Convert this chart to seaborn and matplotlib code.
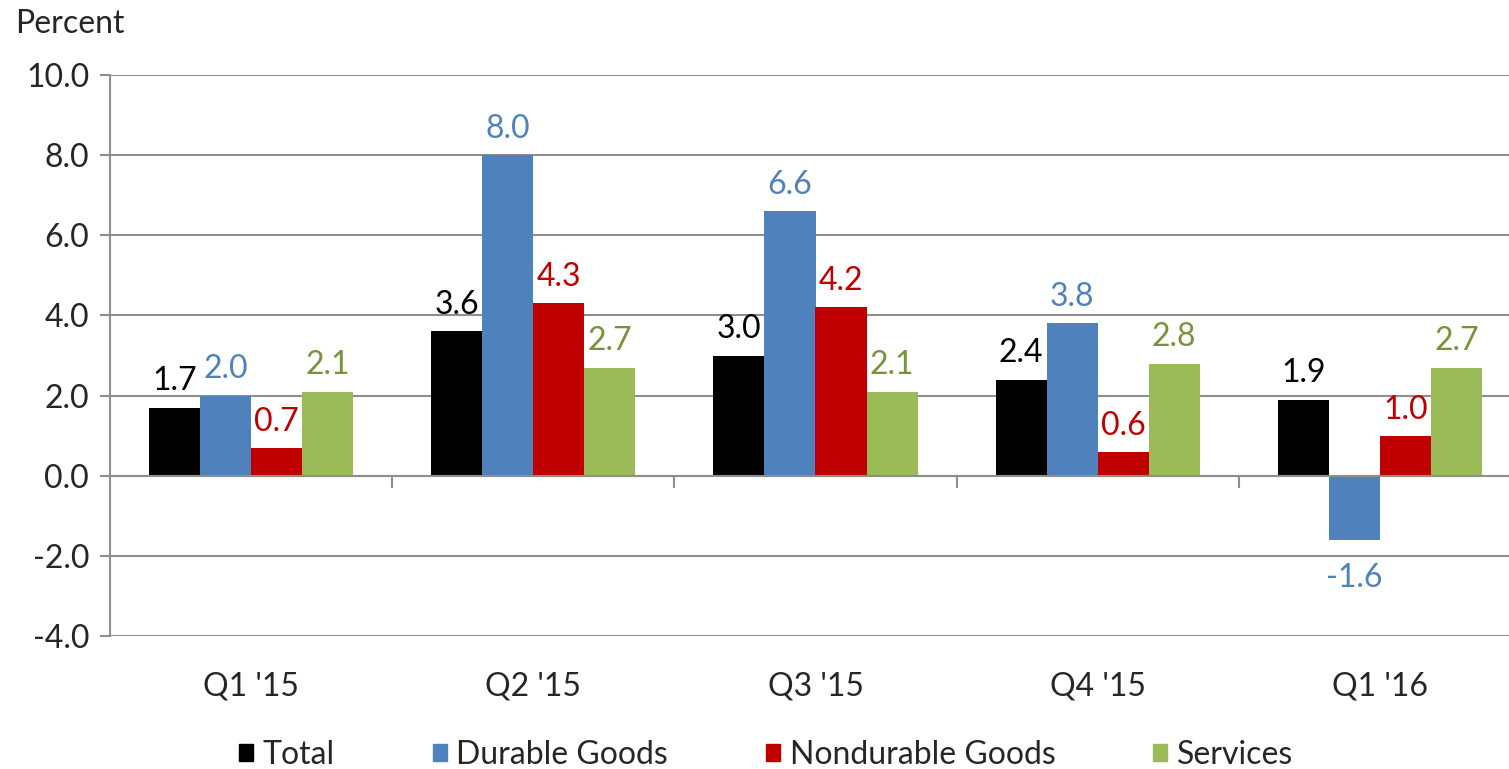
import matplotlib
matplotlib.use("Agg")
import matplotlib.pyplot as plt
import seaborn as sns
import pandas as pd
from matplotlib.ticker import FixedLocator

quarters = ["Q1 '15", "Q2 '15", "Q3 '15", "Q4 '15", "Q1 '16"]
series = ["Total", "Durable Goods", "Nondurable Goods", "Services"]
total = [1.7, 3.6, 3.0, 2.4, 1.9]
durable = [2.0, 8.0, 6.6, 3.8, -1.6]
nondurable = [0.7, 4.3, 4.2, 0.6, 1.0]
services = [2.1, 2.7, 2.1, 2.8, 2.7]
yticks = [-4, -2, 0, 2, 4, 6, 8, 10]

bar_colors = ["#000000", "#4F81BD", "#C00000", "#9BBB59"]
label_colors = ["#000000", "#4F81BD", "#C00000", "#77933C"]

rows = []
for s, vals in zip(series, [total, durable, nondurable, services]):
    for q, v in zip(quarters, vals):
        rows.append({"quarter": q, "series": s, "value": v})
df = pd.DataFrame(rows)

sns.set_style("white")
plt.rcParams["font.family"] = ["Lato", "DejaVu Sans"]
FS = 23
GRID = "#8E8E8E"

fig = plt.figure(figsize=(15.09, 7.69), dpi=100)
W, H = 1509, 769
ax = fig.add_axes([110 / W, 1 - 636 / H, (1521 - 110) / W, (636 - 75) / H])

sns.barplot(data=df, x="quarter", y="value", hue="series", order=quarters,
            hue_order=series, palette=bar_colors, width=0.723, gap=0,
            saturation=1, errorbar=None, ax=ax, legend=False, linewidth=0)

ax.set_xlim(-0.5, 4.5)
ax.set_ylim(-4, 10)
ax.set_yticks(yticks)
ax.set_yticklabels([f"{t:.1f}" for t in yticks], fontsize=FS)
ax.yaxis.grid(True, color=GRID, linewidth=1.5)
ax.set_axisbelow(True)
ax.tick_params(axis="y", length=7, width=1.5, color=GRID, pad=8, left=True)

for sp in ["top", "right"]:
    ax.spines[sp].set_visible(False)
ax.spines["left"].set_color(GRID)
ax.spines["left"].set_linewidth(1.5)
ax.spines["bottom"].set_position(("data", 0))
ax.spines["bottom"].set_color(GRID)
ax.spines["bottom"].set_linewidth(1.5)

ax.xaxis.set_minor_locator(FixedLocator([0.5, 1.5, 2.5, 3.5]))
ax.tick_params(axis="x", which="minor", length=8.5, width=1.5, color=GRID,
               direction="out", bottom=True)
ax.tick_params(axis="x", which="major", length=0, pad=141, labelsize=FS)
ax.set_xlabel("")
ax.set_ylabel("")

for cont, c, vals in zip(ax.containers, label_colors,
                         [total, durable, nondurable, services]):
    pos = [f"{v:.1f}" if v >= 0 else "" for v in vals]
    neg = [f"{v:.1f}" if v < 0 else "" for v in vals]
    ax.bar_label(cont, labels=pos, padding=8, color=c, fontsize=FS)
    if any(neg):
        ax.bar_label(cont, labels=neg, padding=17, color=c, fontsize=FS)

fig.text(15 / W, 1 - 9 / H, "Percent", fontsize=FS, ha="left", va="top")

handles = [plt.Rectangle((0, 0), 1, 1, color=c) for c in bar_colors]
fig.legend(handles, series, loc="center", bbox_to_anchor=(766 / W, 1 - 755 / H),
           ncol=4, frameon=False, fontsize=FS, handlelength=0.45, handleheight=0.45,
           handletextpad=0.3, columnspacing=3.05, borderpad=0, borderaxespad=0)

fig.savefig("out.png", dpi=100)
